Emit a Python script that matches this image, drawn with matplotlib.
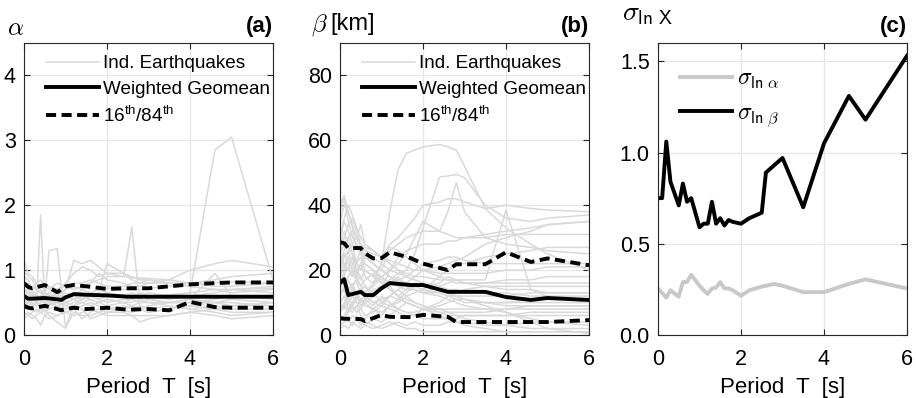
import numpy as np
import matplotlib
matplotlib.use("Agg")
import matplotlib.pyplot as plt

plt.rcParams['font.family'] = ['Liberation Sans', 'DejaVu Sans']
plt.rcParams['mathtext.fontset'] = 'custom'
plt.rcParams['mathtext.rm'] = 'Liberation Sans'
plt.rcParams['mathtext.sf'] = 'Liberation Sans'
plt.rcParams['mathtext.it'] = 'Liberation Sans:italic'

# periods for the individual earthquake curves
T_eq = [0, 0.1, 0.2, 0.3, 0.4, 0.5, 0.6, 0.8, 1.0, 1.2, 1.4, 1.6, 1.8, 2.0,
        2.4, 2.6, 2.8, 3.0, 3.5, 4.0, 4.6, 5.0, 6.0]

# alpha, individual earthquakes
alpha_eq = [
    [0.6, 0.55, 0.6, 0.62, 0.58, 0.6, 0.62, 0.6, 0.58, 0.6, 0.62, 0.6, 0.62, 0.6, 0.62, 0.6, 0.62, 0.6, 0.62, 0.65, 2.85, 3.05, 0.85],
    [0.75, 0.8, 0.65, 0.5, 1.85, 0.5, 0.45, 0.55, 0.5, 0.55, 0.6, 0.55, 0.5, 0.55, 0.5, 0.55, 0.5, 0.55, 0.5, 0.55, 0.5, 0.55, 0.5],
    [0.9, 0.85, 0.7, 0.6, 0.55, 0.5, 1.3, 1.33, 0.12, 0.45, 0.55, 0.6, 0.55, 0.6, 0.6, 0.55, 0.6, 0.6, 0.6, 0.65, 0.7, 0.65, 0.7],
    [0.55, 0.5, 0.45, 0.5, 0.55, 0.5, 0.45, 0.5, 0.55, 0.6, 0.7, 0.8, 0.85, 0.9, 0.9, 1.66, 0.4, 0.45, 0.5, 0.5, 0.5, 0.5, 0.45],
    [1.15, 0.95, 0.9, 0.8, 0.75, 0.7, 0.75, 0.7, 0.75, 0.8, 0.8, 0.85, 0.8, 0.75, 0.75, 0.8, 0.8, 0.85, 0.8, 0.8, 0.85, 0.9, 0.95],
    [0.7, 0.65, 0.6, 0.55, 0.6, 0.65, 0.6, 0.55, 0.7, 1.15, 1.1, 1.15, 1.05, 0.95, 0.9, 0.88, 0.88, 0.87, 0.85, 0.8, 0.75, 0.75, 0.8],
    [0.5, 0.45, 0.5, 0.45, 0.5, 0.55, 0.5, 0.5, 0.45, 0.5, 0.55, 0.6, 0.65, 1.1, 0.95, 0.85, 0.8, 0.8, 0.85, 1.0, 1.1, 1.15, 1.05],
    [0.3, 0.35, 0.3, 0.25, 0.15, 0.3, 0.35, 0.3, 0.35, 0.4, 0.25, 0.35, 0.4, 0.35, 0.35, 0.3, 0.3, 0.3, 0.3, 0.35, 0.3, 0.25, 0.3],
    [0.35, 0.3, 0.25, 0.3, 0.35, 0.4, 0.3, 0.2, 0.1, 0.35, 0.3, 0.3, 0.35, 0.3, 0.3, 0.3, 0.2, 0.25, 0.3, 0.35, 0.4, 0.35, 0.35],
    [0.45, 0.5, 0.55, 0.5, 0.45, 0.4, 0.45, 0.5, 0.45, 0.4, 0.45, 0.5, 0.45, 0.4, 0.45, 0.4, 0.45, 0.4, 0.45, 0.4, 0.45, 0.4, 0.4],
    [0.65, 0.7, 0.75, 0.7, 0.65, 0.7, 0.75, 0.65, 0.7, 0.75, 0.7, 0.65, 0.7, 0.72, 0.7, 0.7, 0.7, 0.72, 0.75, 0.8, 0.8, 0.82, 0.8],
    [0.8, 0.75, 0.7, 0.8, 0.85, 0.75, 0.7, 0.8, 0.75, 0.7, 0.75, 0.8, 0.95, 0.85, 0.8, 0.75, 0.75, 0.8, 0.8, 0.75, 0.7, 0.7, 0.75],
    [0.55, 0.6, 0.65, 0.6, 0.55, 0.6, 0.55, 0.6, 0.65, 0.6, 0.55, 0.6, 0.55, 0.5, 0.55, 0.55, 0.6, 0.55, 0.5, 0.5, 0.55, 0.6, 0.6],
    [0.4, 0.45, 0.4, 0.35, 0.4, 0.45, 0.5, 0.45, 0.4, 0.45, 0.5, 0.45, 0.5, 0.45, 0.5, 0.45, 0.5, 0.5, 0.45, 0.4, 0.35, 0.3, 0.35],
    [1.0, 0.9, 0.85, 0.7, 0.65, 0.6, 0.65, 0.7, 0.8, 0.95, 1.05, 1.0, 0.9, 0.95, 0.95, 0.9, 0.85, 0.85, 0.8, 0.75, 0.7, 0.7, 0.72],
    [0.25, 0.3, 0.35, 0.4, 0.35, 0.3, 0.25, 0.3, 0.35, 0.3, 0.35, 0.4, 0.35, 0.4, 0.38, 0.35, 0.4, 0.35, 0.4, 0.45, 0.5, 0.45, 0.5],
    [0.6, 0.65, 0.6, 0.55, 0.6, 0.65, 0.6, 0.65, 0.6, 0.65, 0.6, 0.65, 0.6, 0.65, 0.6, 0.65, 0.6, 0.65, 0.6, 0.6, 0.6, 0.6, 0.6],
    [0.5, 0.55, 0.5, 0.45, 0.5, 0.55, 0.5, 0.55, 0.5, 0.55, 0.5, 0.55, 0.5, 0.55, 0.5, 0.5, 0.55, 0.5, 0.5, 0.55, 0.95, 0.6, 0.55],
    [0.85, 0.7, 0.6, 0.65, 0.7, 0.6, 0.55, 0.65, 0.6, 0.55, 0.6, 0.65, 0.7, 0.65, 0.6, 0.6, 0.65, 0.6, 0.55, 0.6, 0.65, 0.7, 0.65],
    [0.45, 0.4, 0.45, 0.5, 0.45, 0.35, 0.4, 0.45, 0.5, 0.45, 0.4, 0.25, 0.3, 0.35, 0.4, 0.45, 0.4, 0.35, 0.4, 0.45, 0.4, 0.45, 0.45],
]

# beta [km], individual earthquakes
beta_eq = [
    [20, 25, 22, 18, 20, 22, 18, 16, 22, 38, 51, 56, 57, 58, 58.7, 58, 57, 52, 39, 33, 28, 25, 20],
    [10, 12, 8, 10, 12, 9, 11, 14, 15, 17, 19, 20, 25, 33, 48.7, 49, 49.5, 48.5, 40, 36, 35, 36, 37],
    [15, 18, 14, 16, 12, 14, 15, 12, 14, 20, 22, 25, 30, 35, 32, 38, 47, 38, 30, 28, 27, 26, 25],
    [8, 10, 12, 9, 7, 8, 10, 12, 14, 16, 18, 15, 14, 13, 15, 16, 17, 17, 17, 38.5, 14, 12, 10],
    [30, 35, 32, 28, 30, 34, 28, 26, 24, 28, 30, 33, 36, 40, 41, 42, 42, 41, 39, 40, 39, 38.5, 38],
    [25, 28, 30, 25, 22, 20, 24, 22, 20, 26, 28, 30, 31, 32, 32, 31, 30, 30, 31, 32, 33, 34, 35],
    [38, 42, 35, 30, 28, 26, 25, 24, 22, 20, 24, 26, 27, 28, 28, 29, 29, 30, 30, 31, 31, 31, 31],
    [5, 6, 8, 7, 9, 6, 5, 8, 6, 9, 10, 12, 13, 14, 18, 20, 22, 22, 24, 25, 26, 27, 27],
    [18, 22, 20, 24, 19, 17, 20, 18, 16, 15, 17, 18, 20, 22, 23, 24, 24, 23, 22, 22, 22, 22, 22],
    [12, 15, 17, 14, 12, 10, 13, 15, 18, 15, 12, 14, 16, 15, 16, 18, 17, 16, 16, 17, 17, 18, 18],
    [3, 4, 5, 3, 6, 4, 3, 5, 4, 6, 8, 7, 6, 8, 10, 12, 13, 14, 15, 15, 15, 15, 15],
    [22, 26, 30, 32, 27, 25, 22, 20, 18, 16, 15, 14, 14, 13, 13, 12, 12, 12, 12, 12, 13, 13, 13],
    [8, 9, 7, 10, 12, 14, 11, 9, 12, 10, 8, 10, 9, 8, 9, 10, 11, 10, 10, 10, 11, 11, 11],
    [28, 32, 27, 25, 20, 18, 15, 13, 10, 9, 8, 7, 7, 8, 8, 8, 8, 8, 8, 8, 8, 8, 8],
    [14, 18, 24, 20, 16, 13, 12, 10, 11, 12, 14, 12, 10, 9, 7, 6, 6, 6, 6, 6, 6, 6, 6],
    [6, 5, 4, 6, 5, 3, 4, 3, 2, 3, 4, 3, 4, 3, 3, 4, 4, 4, 3, 3, 4, 4, 4],
    [16, 20, 26, 22, 18, 15, 17, 19, 16, 14, 12, 11, 10, 9, 8, 7, 6, 5, 4, 3, 2, 2, 2],
    [35, 40, 38, 33, 30, 28, 26, 25, 24, 22, 20, 18, 17, 16, 14, 13, 12, 11, 9, 7, 4, 2, 0.5],
    [10, 12, 11, 14, 18, 22, 25, 22, 20, 18, 16, 15, 14, 13, 12, 11, 10, 9, 8, 7, 5, 4, 3],
    [20, 24, 26, 28, 22, 24, 20, 18, 22, 27, 26, 24, 22, 20, 18, 17, 16, 16, 15, 14, 14, 13, 13],
    [4, 5, 7, 9, 11, 14, 12, 10, 9, 8, 7, 6, 6, 5, 5, 5, 5, 6, 6, 6, 7, 7, 7],
    [26, 30, 34, 36, 32, 28, 27, 26, 24, 23, 22, 21, 20, 20, 19, 19, 19, 19, 19, 20, 20, 21, 21],
    [12, 14, 10, 8, 9, 11, 10, 8, 7, 9, 11, 13, 15, 16, 14, 13, 12, 11, 10, 9, 9, 9, 9],
    [9, 8, 10, 12, 10, 8, 6, 7, 9, 12, 14, 16, 18, 20, 21, 22, 23, 24, 28, 30, 32, 34, 35],
    [2, 3, 2, 4, 3, 2, 3, 2, 3, 4, 3, 2, 2, 1, 1, 1, 1, 1, 1, 1, 1, 1, 1],
    [30, 36, 40, 37, 33, 30, 28, 26, 24, 22, 20, 19, 18, 18, 17, 17, 17, 16, 16, 16, 16, 16, 16],
    [15, 16, 18, 20, 17, 15, 13, 16, 18, 20, 19, 18, 17, 16, 15, 14, 14, 13, 13, 13, 12, 12, 12],
    [7, 9, 12, 15, 13, 11, 9, 8, 10, 12, 11, 10, 9, 8, 7, 7, 7, 7, 7, 8, 9, 9, 9],
    [24, 22, 20, 18, 23, 26, 22, 20, 17, 14, 12, 10, 9, 8, 6, 5, 4, 3, 2, 1, 1, 1, 1],
    [40, 43, 38, 34, 30, 27, 24, 22, 20, 18, 17, 16, 15, 14, 13, 12, 11, 11, 10, 10, 10, 10, 10],
]

# weighted geomean and 16th/84th, alpha
T_a = [0, 0.1, 0.2, 0.5, 0.8, 0.9, 1.0, 1.2, 1.5, 2.0, 2.5, 3.0, 3.5, 4.0, 4.6, 5.0, 6.0]
alpha_gm = [0.60, 0.56, 0.56, 0.57, 0.55, 0.54, 0.58, 0.63, 0.62, 0.61, 0.59, 0.59, 0.59, 0.59, 0.59, 0.59, 0.59]
alpha_84 = [0.80, 0.74, 0.72, 0.77, 0.66, 0.70, 0.75, 0.77, 0.75, 0.71, 0.72, 0.72, 0.75, 0.78, 0.80, 0.81, 0.81]
alpha_16 = [0.45, 0.42, 0.41, 0.45, 0.40, 0.38, 0.40, 0.42, 0.40, 0.42, 0.39, 0.40, 0.38, 0.51, 0.43, 0.42, 0.42]

# weighted geomean and 16th/84th, beta
T_b = [0, 0.1, 0.2, 0.5, 0.6, 0.8, 1.0, 1.2, 1.7, 2.0, 2.6, 2.8, 3.5, 4.0, 4.6, 5.0, 6.0]
beta_gm = [16.0, 17.2, 12.3, 13.3, 12.3, 12.3, 14.4, 16.0, 15.4, 15.4, 13.3, 13.3, 13.3, 11.7, 10.8, 11.4, 10.8]
beta_84 = [28.6, 28.3, 26.8, 26.8, 25.2, 23.6, 23.7, 25.5, 23.7, 22.0, 20.0, 21.8, 21.8, 25.5, 22.5, 23.6, 21.5]
beta_16 = [5.2, 5.0, 5.0, 4.9, 4.3, 5.2, 6.2, 5.6, 5.5, 6.2, 5.6, 4.0, 4.0, 4.0, 4.0, 4.0, 4.6]

# standard deviations
T_s = [0, 0.1, 0.2, 0.3, 0.5, 0.6, 0.7, 0.8, 1.0, 1.1, 1.2, 1.3, 1.4, 1.5, 1.6, 1.7, 1.8,
       2.0, 2.2, 2.5, 2.6, 2.8, 3.0, 3.5, 4.0, 4.6, 5.0, 6.0]
sig_alpha = [0.255, 0.23, 0.205, 0.245, 0.21, 0.29, 0.29, 0.33, 0.27, 0.245, 0.225, 0.255, 0.26, 0.29,
             0.255, 0.255, 0.245, 0.215, 0.245, 0.265, 0.27, 0.28, 0.27, 0.235, 0.235, 0.28, 0.305, 0.255]
sig_beta = [0.75, 0.75, 1.06, 0.84, 0.71, 0.83, 0.73, 0.75, 0.59, 0.61, 0.61, 0.73, 0.61, 0.64,
            0.60, 0.63, 0.62, 0.61, 0.64, 0.67, 0.89, 0.93, 0.97, 0.70, 1.05, 1.31, 1.18, 1.53]

gray = '#d9d9d9'
dash = (0, (2.6, 1.4))
W, H = 916, 398

fig = plt.figure(figsize=(9.16, 3.98), dpi=100)
lefts = [24, 340, 658]
axs = [fig.add_axes([l / W, 63 / H, 249 / W, 292 / H]) for l in lefts]


def style(ax, ylim, yticks, ylabels):
    ax.set_xlim(0, 6)
    ax.set_ylim(*ylim)
    ax.set_xticks([0, 2, 4, 6])
    ax.set_yticks(yticks)
    ax.set_yticklabels(ylabels)
    ax.grid(True, color='#e6e6e6', lw=0.9)
    ax.set_axisbelow(True)
    ax.tick_params(direction='in', top=True, right=True, length=4, width=0.8,
                   color='#262626', labelsize=15.5, labelcolor='black')
    ax.tick_params(axis='x', pad=10)
    ax.tick_params(axis='y', pad=6)
    for s in ax.spines.values():
        s.set_color('#262626')
        s.set_linewidth(0.8)
    ax.set_xlabel('Period  T  [s]', fontsize=16, labelpad=5)


legkw = dict(loc='upper left', frameon=False, fontsize=13.6, handlelength=2.8,
             handletextpad=0.2, labelspacing=0.42, borderaxespad=0, borderpad=0)

# (a)
ax = axs[0]
for i, a in enumerate(alpha_eq):
    ax.plot(T_eq, a, color=gray, lw=1.1, label='Ind. Earthquakes' if i == 0 else None)
ax.plot(T_a, alpha_gm, color='k', lw=2.8, label='Weighted Geomean')
ax.plot(T_a, alpha_84, color='k', lw=2.8, ls=dash, label='16$^{\\rm th}$/84$^{\\rm th}$')
ax.plot(T_a, alpha_16, color='k', lw=2.8, ls=dash)
style(ax, (0, 4.5), [0, 1, 2, 3, 4], ['0', '1', '2', '3', '4'])
ax.legend(bbox_to_anchor=(0.09, 0.958), **legkw)
t = ax.text(-0.07, 1.05, r'$\alpha$', transform=ax.transAxes, fontsize=18, va='center', ha='left')
t.set_math_fontfamily('cm')
ax.text(1.0, 1.055, '(a)', transform=ax.transAxes, fontsize=16, fontweight='bold', va='center', ha='right')

# (b)
ax = axs[1]
for i, b in enumerate(beta_eq):
    ax.plot(T_eq, b, color=gray, lw=1.1, label='Ind. Earthquakes' if i == 0 else None)
ax.plot(T_b, beta_gm, color='k', lw=2.8, label='Weighted Geomean')
ax.plot(T_b, beta_84, color='k', lw=2.8, ls=dash, label='16$^{\\rm th}$/84$^{\\rm th}$')
ax.plot(T_b, beta_16, color='k', lw=2.8, ls=dash)
style(ax, (0, 90), [0, 20, 40, 60, 80], ['0', '20', '40', '60', '80'])
ax.legend(bbox_to_anchor=(0.09, 0.958), **legkw)
t = ax.text(-0.115, 1.06, r'$\beta$', transform=ax.transAxes, fontsize=18, va='center', ha='left')
t.set_math_fontfamily('cm')
ax.text(-0.04, 1.065, '[km]', transform=ax.transAxes, fontsize=17, va='center', ha='left')
ax.text(1.0, 1.055, '(b)', transform=ax.transAxes, fontsize=16, fontweight='bold', va='center', ha='right')

# (c)
ax = axs[2]
ax.plot(T_s, sig_alpha, color='#c8c8c8', lw=2.8, label=r'$\sigma_{\mathsf{ln}\ \alpha}$')
ax.plot(T_s, sig_beta, color='k', lw=2.8, label=r'$\sigma_{\mathsf{ln}\ \beta}$')
style(ax, (0, 1.6), [0, 0.5, 1.0, 1.5], ['0.0', '0.5', '1.0', '1.5'])
leg = ax.legend(loc='upper left', bbox_to_anchor=(0.088, 0.915), frameon=False, fontsize=17,
                handlelength=2.2, handletextpad=0.2, labelspacing=0.5, borderaxespad=0, borderpad=0)
for tx in leg.get_texts():
    tx.set_math_fontfamily('cm')
t = ax.text(-0.145, 1.1, r'$\sigma_{\mathsf{ln\ X}}$', transform=ax.transAxes, fontsize=20, va='center', ha='left')
t.set_math_fontfamily('cm')
ax.text(1.0, 1.055, '(c)', transform=ax.transAxes, fontsize=16, fontweight='bold', va='center', ha='right')

fig.savefig('out.png', dpi=100)
